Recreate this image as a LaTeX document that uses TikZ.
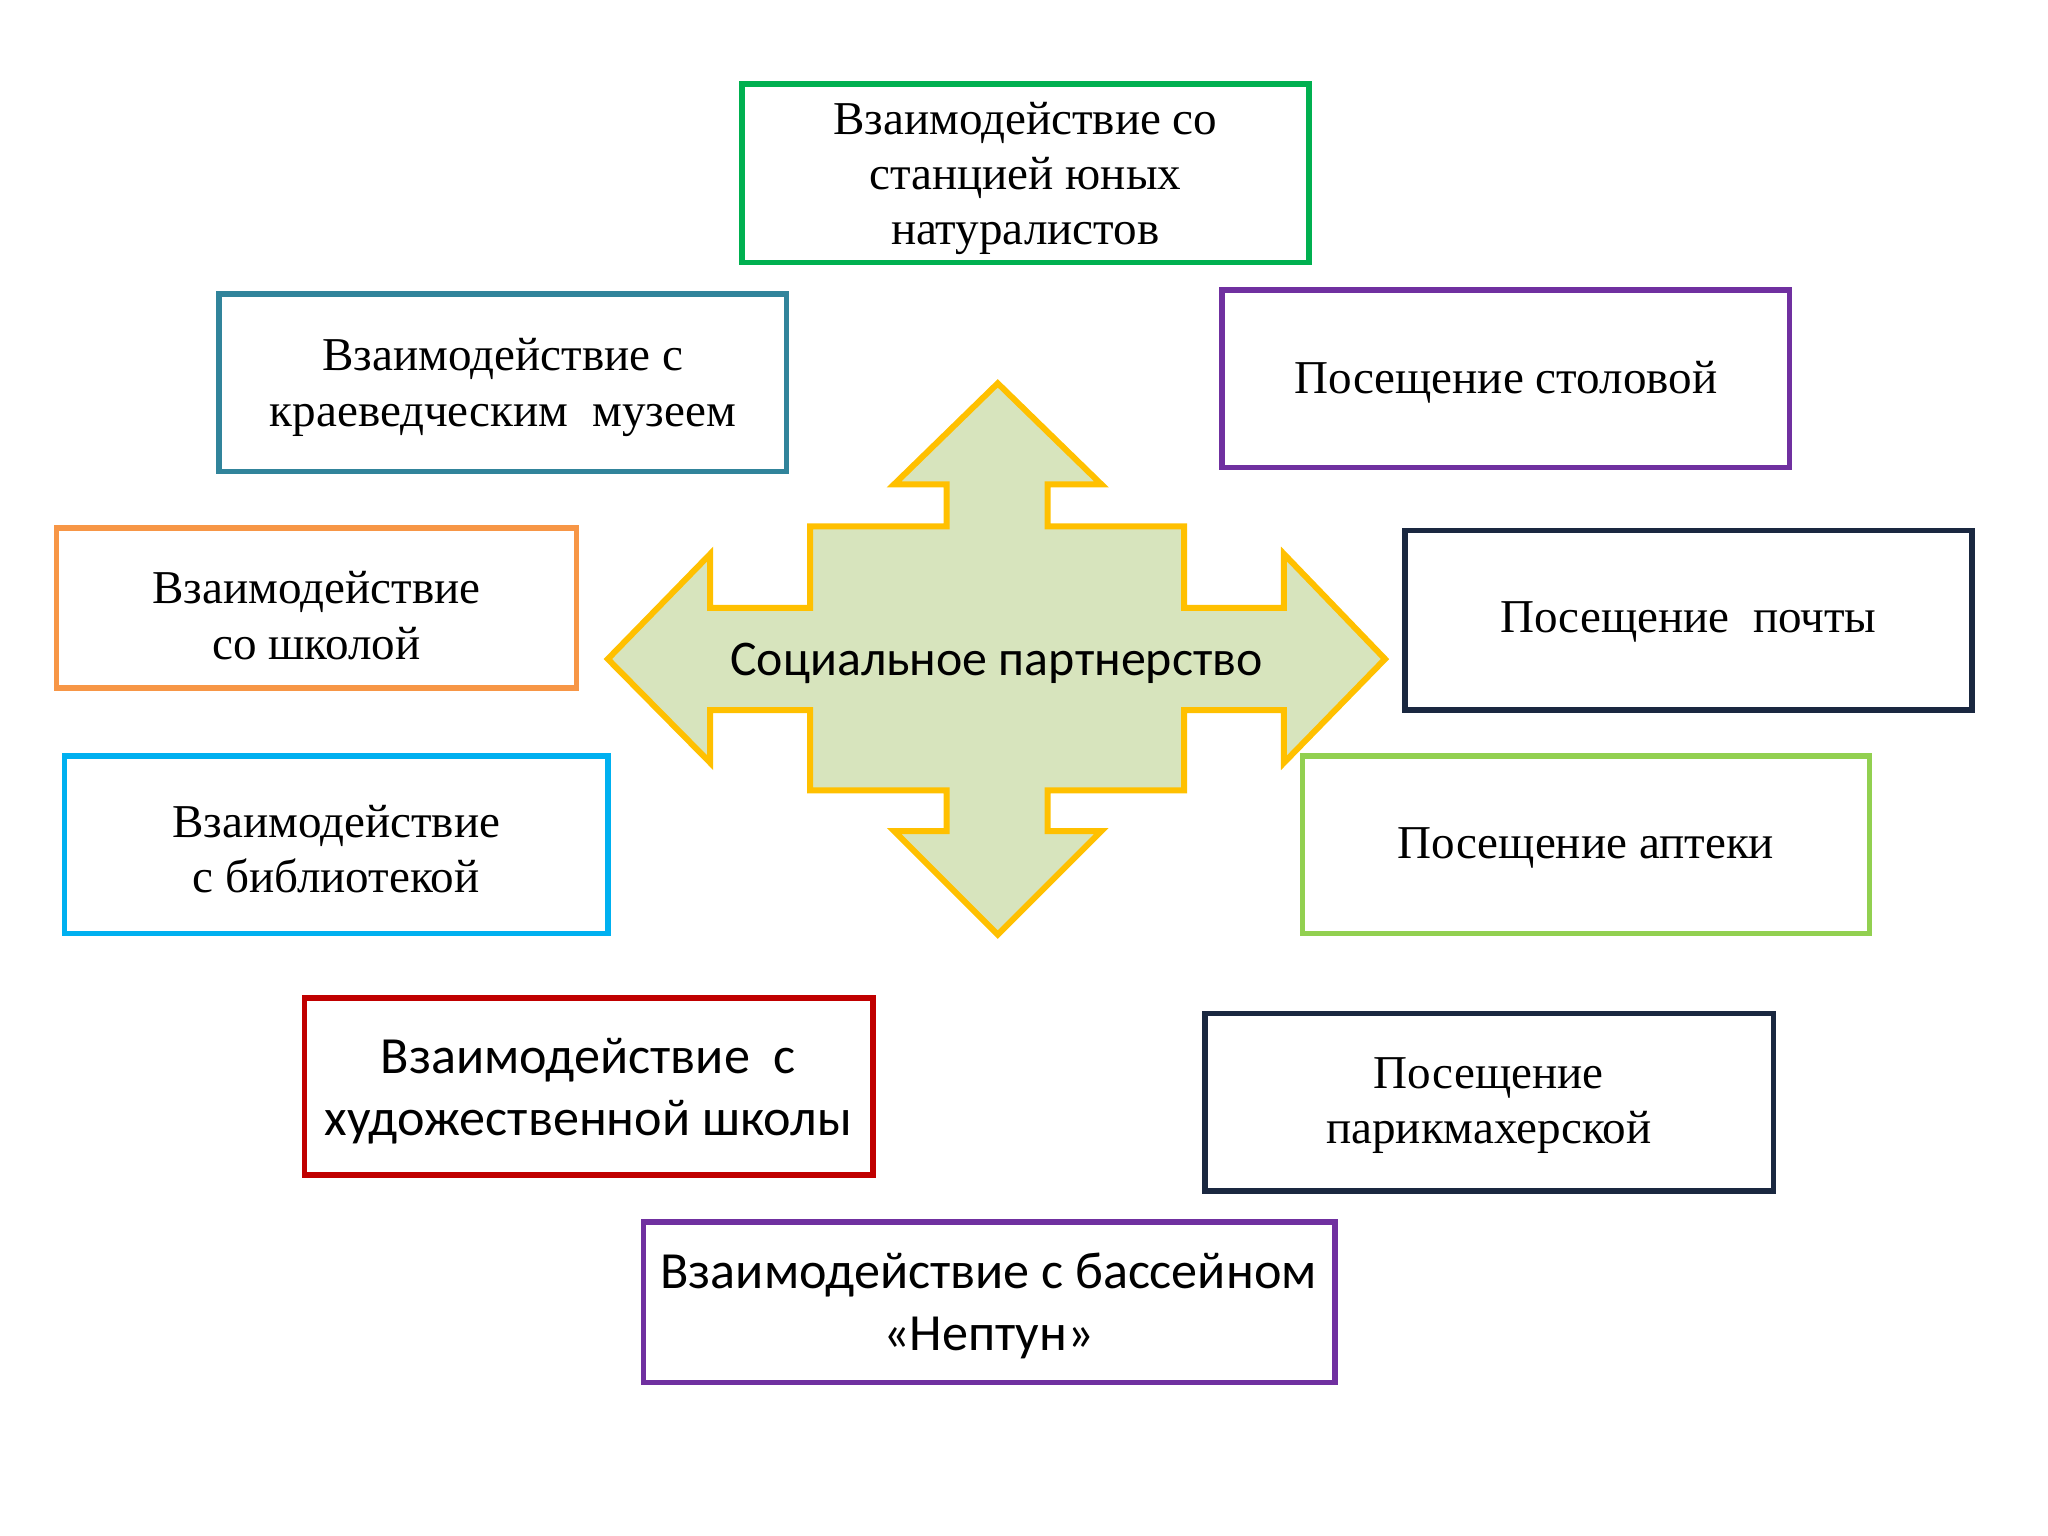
\documentclass[tikz,border=0pt]{standalone}
\usepackage{fontspec}
\setmainfont{Liberation Serif}
\newfontfamily\calib{Carlito}
\definecolor{cgreen}{HTML}{00B050}
\definecolor{cteal}{HTML}{31849B}
\definecolor{cpurple}{HTML}{7030A0}
\definecolor{corange}{HTML}{F79646}
\definecolor{cnavy}{HTML}{1A2840}
\definecolor{ccyan}{HTML}{00B0F0}
\definecolor{clgreen}{HTML}{92D050}
\definecolor{cred}{HTML}{C00000}
\definecolor{afill}{HTML}{D7E4BD}
\definecolor{aline}{HTML}{FFC000}
\begin{document}
\begin{tikzpicture}[x=0.01cm,y=-0.01cm,
  bx/.style={draw=#1,line width=1.2pt,fill=white},
  tx/.style={align=center,font=\fontsize{10.2}{12}\selectfont},
  sx/.style={align=center,font=\calib\fontsize{11.3}{13.4}\selectfont}]
\useasboundingbox (0,0) rectangle (1560,1170);
\draw[fill=afill,draw=aline,line width=1.3pt] (760,292) -- (839,369) -- (798,369) -- (798,401) -- (902,401) -- (902,463) -- (978,463) -- (978,422) -- (1055,502) -- (978,581) -- (978,541) -- (902,541) -- (902,602) -- (798,602) -- (798,633) -- (839,633) -- (760,712) -- (681,633) -- (721,633) -- (721,602) -- (617,602) -- (617,541) -- (541,541) -- (541,581) -- (463,502) -- (541,422) -- (541,463) -- (617,463) -- (617,401) -- (721,401) -- (721,369) -- (681,369) -- cycle;
\node[sx,font=\calib\fontsize{10.8}{13}\selectfont] (c) at (759,505) {Социальное партнерство};

\draw[bx=cgreen] (565,64) rectangle (997,200);
\node[tx] (n1) at (781,136) {Взаимодействие со\\станцией юных\\натуралистов};
\draw[bx=cteal] (167,224) rectangle (599,359);
\node[tx] (n2) at (383,295) {Взаимодействие с\\краеведческим\ \ музеем};
\draw[bx=cpurple] (931,221) rectangle (1363,356);
\node[tx] (n3) at (1147,291) {Посещение столовой};
\draw[bx=corange] (43,402) rectangle (439,524);
\node[tx] (n4) at (241,469) {Взаимодействие\\со школой};
\draw[bx=cnavy] (1070,404) rectangle (1502,541);
\node[tx] (n5) at (1286,474) {Посещение\ \ почты};
\draw[bx=ccyan] (49,576) rectangle (463,711);
\node[tx] (n6) at (256,647) {Взаимодействие\\с библиотекой};
\draw[bx=clgreen] (992,576) rectangle (1424,711);
\node[tx] (n7) at (1208,646) {Посещение аптеки};
\draw[bx=cred] (232,760) rectangle (665,895);
\node[sx] (n8) at (448,831) {Взаимодействие\ \ с\\художественной школы};
\draw[bx=cnavy] (918,772) rectangle (1351,907);
\node[tx] (n9) at (1134,842) {Посещение\\парикмахерской};
\draw[bx=cpurple] (490,931) rectangle (1017,1053);
\node[sx] (n10) at (753,995) {Взаимодействие с бассейном\\«Нептун»};
\end{tikzpicture}
\end{document}
